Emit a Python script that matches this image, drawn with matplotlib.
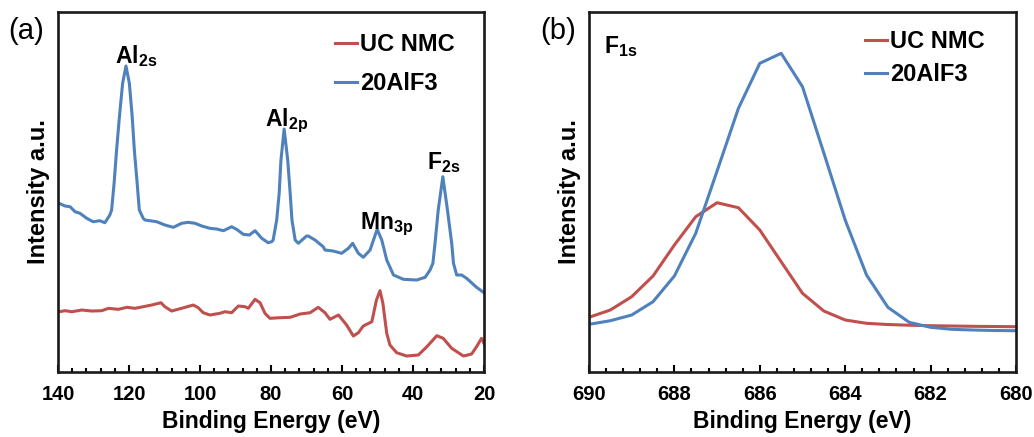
import matplotlib
matplotlib.use("Agg")
import matplotlib.pyplot as plt
from matplotlib.ticker import MultipleLocator

plt.rcParams['font.family'] = ['Liberation Sans', 'DejaVu Sans']
plt.rcParams['mathtext.fontset'] = 'custom'
plt.rcParams['mathtext.bf'] = 'Liberation Sans:bold'
plt.rcParams['mathtext.rm'] = 'Liberation Sans'
plt.rcParams['mathtext.it'] = 'Liberation Sans:italic'

RED = '#C0504D'
BLUE = '#4F81BD'

# ---- Panel (a): survey, binding energy (eV) and intensity (a.u.) ----
a_blue_be = [139.7, 138.0, 136.6, 135.2, 133.8, 131.9, 130.1, 128.2, 126.8, 125.4,
             124.9, 124.2, 123.5, 122.7, 121.8, 120.85, 119.9, 119.1, 118.5, 117.7,
             117.1, 116.0, 115.5, 112.2, 109.9, 107.5, 105.2, 103.3, 101.4, 99.5,
             97.2, 95.3, 93.4, 91.1, 89.7, 87.8, 86.1, 84.5, 82.6, 80.8,
             79.8, 79.4, 78.4, 77.7, 77.2, 76.3, 75.3, 74.6, 74.1, 73.2,
             72.3, 70.0, 69.5, 67.6, 65.3, 64.8, 62.5, 60.1, 58.2, 57.0,
             55.4, 54.0, 52.1, 50.1, 48.8, 47.4, 45.5, 42.7, 39.0, 36.6,
             35.2, 34.4, 33.8, 32.9, 31.6, 30.3, 29.1, 28.6, 27.7, 26.3,
             24.9, 22.1, 20.0]
a_blue_int = [168.7, 166, 165.3, 160.3, 158.7, 153.7, 150.3, 151.3, 149.3, 157,
              162, 188.7, 222, 255.3, 288.7, 306, 288.7, 255.3, 222, 188.7,
              162, 153.7, 152, 150.3, 147, 144.7, 148.7, 149.7, 148.7, 146,
              143.7, 143, 141.3, 145.3, 142.7, 137.7, 137, 141.3, 133.7, 129.3,
              130.3, 132, 152, 178.7, 212, 243, 212, 178.7, 152, 132,
              128.7, 136, 136, 132, 125.3, 122, 121, 118.7, 123.7, 128.7,
              118.7, 114.7, 122, 142.7, 132, 112, 97, 92.7, 92, 94.7,
              102, 108.7, 128.7, 162, 195.3, 162, 128.7, 108.7, 97, 97,
              93.7, 84.7, 79.3]

a_red_be = [139.7, 138.0, 136.1, 133.3, 130.5, 127.7, 125.8, 123.0, 120.6, 118.3,
            116.0, 113.6, 111.0, 109.9, 108.0, 105.2, 101.9, 100.5, 99.1, 97.2,
            94.4, 93.0, 91.1, 89.2, 87.3, 86.4, 84.5, 83.1, 81.7, 80.3,
            77.5, 74.6, 71.8, 69.0, 66.7, 64.8, 63.4, 61.0, 58.7, 56.8,
            55.4, 54.0, 51.6, 50.3, 49.3, 48.5, 47.4, 46.5, 44.6, 41.8,
            38.5, 36.1, 33.3, 31.5, 29.1, 25.8, 23.5, 22.1, 20.7, 19.8]
a_red_int = [60.3, 61.3, 60.3, 62, 61, 61.3, 63.7, 62.7, 64.7, 63.7,
             65.3, 67, 69.3, 65.3, 61, 63.7, 67, 64.3, 59.3, 57,
             58.7, 60.3, 59.3, 66, 65.3, 63.7, 72.7, 69.3, 58.7, 53.7,
             54.3, 54.7, 58, 59.3, 64.7, 59.3, 52.7, 57, 47, 36,
             39.3, 46, 50.3, 72, 81.3, 69, 38.7, 27, 19.3, 16,
             17, 25.3, 36.3, 33.7, 23.7, 16, 18, 25.3, 33.7, 27]

# ---- Panel (b): F 1s ----
b_be = [690.0, 689.5, 689.0, 688.5, 688.0, 687.5, 687.0, 686.5, 686.0, 685.5,
        685.0, 684.5, 684.0, 683.5, 683.0, 682.5, 682.0, 681.5, 681.0, 680.5, 680.0]
b_blue_int = [47.7, 51.3, 57, 70.3, 96, 138.7, 201, 263.7, 308.7, 318.7,
              285.3, 219, 152, 97, 64.7, 49.7, 44.7, 42.7, 42, 41.5, 41.3]
b_red_int = [54.7, 62, 75.3, 96, 127, 155.3, 169.3, 164.3, 142, 110.3,
             78.7, 61, 52, 48.7, 47.5, 46.8, 46.3, 46, 45.7, 45.5, 45.3]

series_labels = ['UC NMC', '20AlF3']

fig = plt.figure(figsize=(10.34, 4.37), dpi=100)
axA = fig.add_axes([0.0561, 0.1487, 0.412, 0.8238])
axB = fig.add_axes([0.5696, 0.1487, 0.413, 0.8238])

LW = 2.2
axA.plot(a_red_be, a_red_int, color=RED, lw=LW, label=series_labels[0])
axA.plot(a_blue_be, a_blue_int, color=BLUE, lw=LW, label=series_labels[1])
axB.plot(b_be, b_red_int, color=RED, lw=LW, label=series_labels[0])
axB.plot(b_be, b_blue_int, color=BLUE, lw=LW, label=series_labels[1])

axA.set_xlim(140, 20)
axB.set_xlim(690, 680)
axA.xaxis.set_major_locator(MultipleLocator(20))
axA.xaxis.set_minor_locator(MultipleLocator(4))
axB.xaxis.set_major_locator(MultipleLocator(2))
axB.xaxis.set_minor_locator(MultipleLocator(0.4))

legend_pos = {0: (0.65, 0.942), 1: (0.646, 0.95)}
legend_spacing = {0: 0.68, 1: 0.42}
for i, ax in enumerate((axA, axB)):
    ax.set_ylim(0, 360)
    ax.set_yticks([])
    for s in ax.spines.values():
        s.set_linewidth(1.9)
        s.set_color('#1a1a1a')
    ax.tick_params(axis='x', which='major', direction='in', length=5, width=1.5,
                   labelsize=14.5, pad=9, top=False)
    ax.tick_params(axis='x', which='minor', direction='in', length=3, width=1.5, top=False)
    for lab in ax.get_xticklabels():
        lab.set_fontweight('bold')
    ax.set_xlabel('Binding Energy (eV)', fontsize=16.5, fontweight='bold', labelpad=5)
    ax.set_ylabel('Intensity a.u.', fontsize=17, fontweight='bold', labelpad=6)
    leg = ax.legend(loc='upper left', bbox_to_anchor=legend_pos[i],
                    frameon=False, fontsize=17, handlelength=0.95, handletextpad=0.1,
                    labelspacing=legend_spacing[i], borderaxespad=0.0, borderpad=0.0)
    for t in leg.get_texts():
        t.set_fontweight('bold')
    for h in leg.get_lines():
        h.set_linewidth(LW)

# peak labels
peak_names = [r'$\mathbf{Al_{2s}}$', r'$\mathbf{Al_{2p}}$', r'$\mathbf{Mn_{3p}}$', r'$\mathbf{F_{2s}}$']
peak_be = [118.0, 75.6, 47.5, 31.5]
peak_base = [309, 246, 143, 203]
for name, x, y in zip(peak_names, peak_be, peak_base):
    axA.text(x, y, name, ha='center', va='baseline', fontsize=16.5)
axB.text(689.25, 319, r'$\mathbf{F_{1s}}$', ha='center', va='baseline', fontsize=16.5)

fig.text(8 / 1034, 1 - 31 / 437, '(a)', fontsize=21, va='center', ha='left')
fig.text(540 / 1034, 1 - 31 / 437, '(b)', fontsize=21, va='center', ha='left')

fig.savefig('out.png', dpi=100)
